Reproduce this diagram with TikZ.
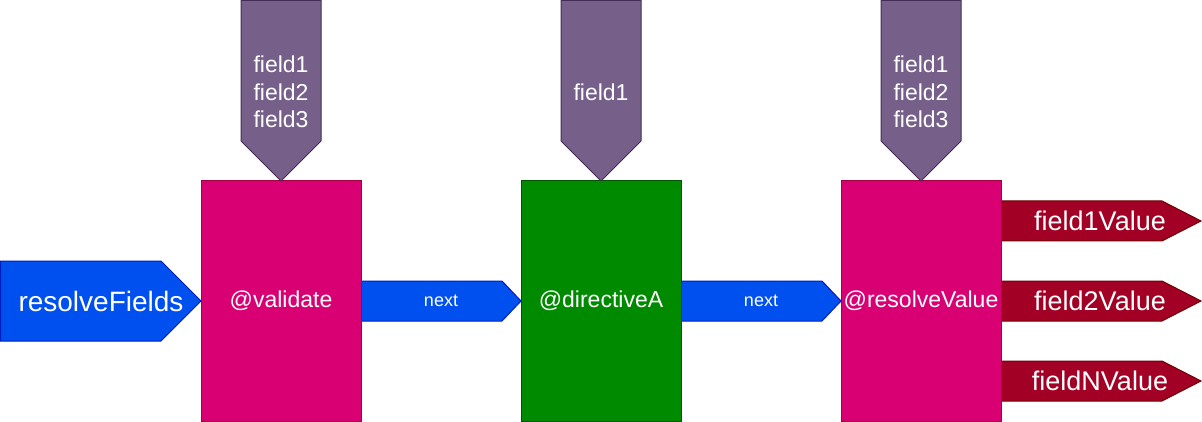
\documentclass[tikz,border=0pt]{standalone}
\usepackage{fontspec}
\setmainfont{Liberation Sans}
\definecolor{pinkF}{HTML}{D80073}
\definecolor{pinkD}{HTML}{A50040}
\definecolor{blueF}{HTML}{0050EF}
\definecolor{blueD}{HTML}{001DBC}
\definecolor{greenF}{HTML}{008A00}
\definecolor{greenD}{HTML}{005700}
\definecolor{purpF}{HTML}{76608A}
\definecolor{purpD}{HTML}{432D57}
\definecolor{redF}{HTML}{A20025}
\definecolor{redD}{HTML}{6F0000}
\tikzset{
  lbl/.style={text=white, inner sep=0pt, align=center},
  boxnode/.style={draw, line width=1pt, minimum width=160pt, minimum height=240pt, inner sep=0pt, text=white,
    font=\fontsize{23}{27.6}\selectfont},
  shp/.style={line width=1pt, line join=miter},
  bluearrow/.style={shp, fill=blueF, draw=blueD},
  redarrow/.style={shp, fill=redF, draw=redD},
  purparrow/.style={shp, fill=purpF, draw=purpD},
}
\begin{document}
\begin{tikzpicture}[x=1pt, y=-1pt]
\useasboundingbox (0,0) rectangle (1202,422);
% input arrow
\draw[bluearrow] (0.5,261) -- (161,261) -- (201,301) -- (161,341) -- (0.5,341) -- cycle;
\node[lbl, font=\fontsize{28}{33}\selectfont] (rf) at (101,301) {resolveFields};
% next arrows
\draw[bluearrow] (361,281) -- (502,281) -- (521,301) -- (502,321) -- (361,321) -- cycle;
\node[lbl, font=\fontsize{18}{21}\selectfont] (next1) at (441,301) {next};
\draw[bluearrow] (681,281) -- (822,281) -- (841,301) -- (822,321) -- (681,321) -- cycle;
\node[lbl, font=\fontsize{18}{21}\selectfont] (next2) at (761,301) {next};
% output arrows
\foreach \yy/\tt in {221/field1Value, 301/field2Value, 381/fieldNValue}{
  \draw[redarrow] (1001,\yy-20) -- (1162,\yy-20) -- (1201,\yy) -- (1162,\yy+20) -- (1001,\yy+20) -- cycle;
}
\node[lbl, font=\fontsize{27}{32}\selectfont] (o1) at (1100,221) {field1Value};
\node[lbl, font=\fontsize{27}{32}\selectfont] (o2) at (1100,301) {field2Value};
\node[lbl, font=\fontsize{27}{32}\selectfont] (o3) at (1100,381) {fieldNValue};
% boxes
\node[boxnode, fill=pinkF, draw=pinkD] (validate) at (281,301) {@validate};
\node[boxnode, fill=greenF, draw=greenD] (directive) at (601,301) {@directiveA};
\node[boxnode, fill=pinkF, draw=pinkD] (resolve) at (921,301) {@resolveValue};
% field inputs
\foreach \xx in {281,601,921}{
  \draw[purparrow] (\xx-40,0.5) -- (\xx+40,0.5) -- (\xx+40,141) -- (\xx,181) -- (\xx-40,141) -- cycle;
}
\node[lbl, font=\fontsize{23}{27.6}\selectfont] (f1) at (281,92) {field1\\field2\\field3};
\node[lbl, font=\fontsize{23}{27.6}\selectfont] (f2) at (601,92) {field1};
\node[lbl, font=\fontsize{23}{27.6}\selectfont] (f3) at (921,92) {field1\\field2\\field3};
\end{tikzpicture}
\end{document}
